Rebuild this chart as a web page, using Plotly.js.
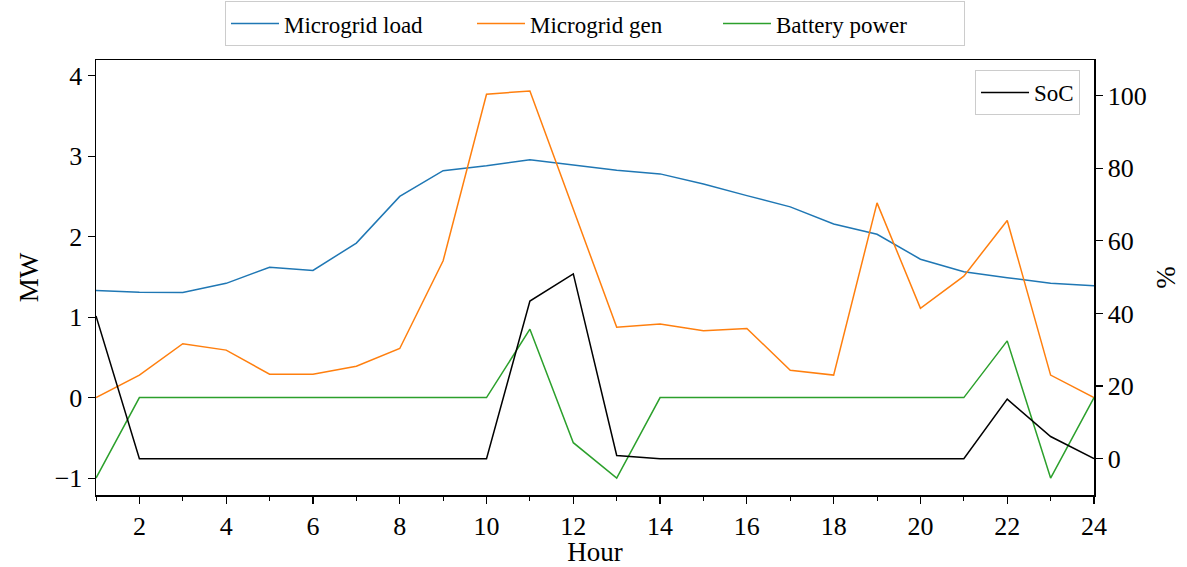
<!DOCTYPE html>
<html>
<head>
<meta charset="utf-8">
<script src="https://cdn.plot.ly/plotly-3.0.1.min.js"></script>
<style>html,body{margin:0;padding:0;background:#fff;}#chart{width:1187px;height:567px;}</style>
</head>
<body>
<div id="chart"></div>
<script>
const hours = [1,2,3,4,5,6,7,8,9,10,11,12,13,14,15,16,17,18,19,20,21,22,23,24];
const microgridLoad = [1.33,1.31,1.305,1.42,1.62,1.58,1.92,2.50,2.82,2.88,2.955,2.89,2.825,2.78,2.655,2.51,2.37,2.158,2.03,1.72,1.565,1.49,1.42,1.39];
const microgridGen = [0,0.28,0.67,0.59,0.29,0.29,0.39,0.61,1.70,3.77,3.81,2.34,0.875,0.915,0.83,0.86,0.34,0.28,2.42,1.11,1.51,2.20,0.28,0];
const batteryPower = [-1,0,0,0,0,0,0,0,0,0,0.85,-0.56,-1,0,0,0,0,0,0,0,0,0.705,-1,0];
const soc = [39.3,0,0,0,0,0,0,0,0,0,43.4,50.9,0.9,0,0,0,0,0,0,0,0,16.4,6.1,0];

const FONT = "Liberation Serif, Times New Roman, serif";
const traces = [
  {x: hours, y: microgridLoad, name: "Microgrid load", mode: "lines", line: {color: "#1f77b4", width: 1.5}, legend: "legend"},
  {x: hours, y: microgridGen, name: "Microgrid gen", mode: "lines", line: {color: "#ff7f0e", width: 1.5}, legend: "legend"},
  {x: hours, y: batteryPower, name: "Battery power", mode: "lines", line: {color: "#2ca02c", width: 1.5}, legend: "legend"},
  {x: hours, y: soc, name: "SoC", mode: "lines", yaxis: "y2", line: {color: "#000000", width: 1.5}, legend: "legend2"}
];
const layout = {
  width: 1187, height: 567,
  margin: {l: 96, r: 93, t: 60, b: 72, autoexpand: false},
  paper_bgcolor: "#fff", plot_bgcolor: "#fff",
  font: {family: FONT, size: 26, color: "#000"},
  showlegend: true,
  xaxis: {
    range: [1, 24], tick0: 0, dtick: 2, ticks: "outside", ticklen: 7, tickwidth: 1.2, tickcolor: "#000",
    showline: true, linecolor: "#000", linewidth: 1.5, mirror: true, showgrid: false, zeroline: false,
    minor: {dtick: 1, tick0: 0, ticks: "outside", ticklen: 4, tickwidth: 1, tickcolor: "#000", showgrid: false},
    title: {text: "Hour", font: {family: FONT, size: 27}, standoff: 4},
    tickfont: {family: FONT, size: 26}
  },
  yaxis: {
    range: [-1.21, 4.195], tick0: 0, dtick: 1, ticks: "outside", ticklen: 7, tickwidth: 1.2, tickcolor: "#000",
    showline: true, linecolor: "#000", linewidth: 1.5, mirror: true, showgrid: false, zeroline: false,
    title: {text: "MW", font: {family: FONT, size: 27}, standoff: 8},
    tickfont: {family: FONT, size: 26}, tickformat: "d"
  },
  yaxis2: {
    overlaying: "y", side: "right", anchor: "x",
    range: [-10, 109.8], tick0: 0, dtick: 20, ticks: "outside", ticklen: 7, tickwidth: 1.2, tickcolor: "#000",
    showline: true, linecolor: "#000", linewidth: 1.5, showgrid: false, zeroline: false,
    title: {text: "%", font: {family: FONT, size: 27}, standoff: 10},
    tickfont: {family: FONT, size: 26}
  },
  legend: {
    orientation: "h", x: 0.5, xanchor: "center", y: 1.032, yanchor: "bottom",
    bordercolor: "#cccccc", borderwidth: 1, bgcolor: "#fff",
    font: {family: FONT, size: 23}, itemwidth: 48, entrywidth: 183, entrywidthmode: "pixels"
  },
  legend2: {
    x: 0.986, xanchor: "right", y: 0.977, yanchor: "top",
    bordercolor: "#cccccc", borderwidth: 1, bgcolor: "#fff",
    font: {family: FONT, size: 23}, itemwidth: 48
  }
};
Plotly.newPlot("chart", traces, layout, {displayModeBar: false, staticPlot: true});
</script>
</body>
</html>
